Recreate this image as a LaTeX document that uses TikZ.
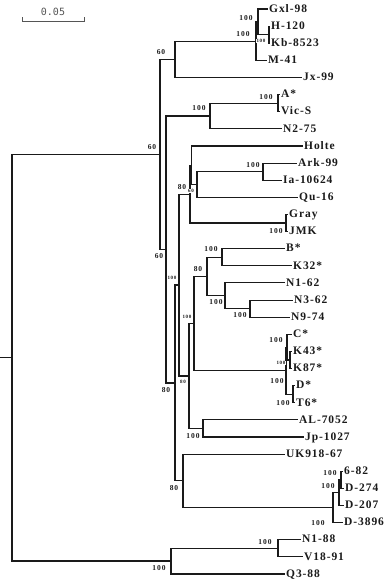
\documentclass[tikz,border=0pt]{standalone}
\usepackage{fontspec}
\setmainfont{Liberation Serif}
\newfontfamily\taxonfont[LetterSpace=8]{Liberation Serif}
\newfontfamily\bootfont[LetterSpace=12]{Liberation Serif}
\newfontfamily\barfont{DejaVu Sans Mono}
\usepackage{xcolor}
\definecolor{treeink}{HTML}{1A1A1A}
\definecolor{bargray}{HTML}{555555}
\usepackage{tikz}

\begin{document}
\begin{tikzpicture}[x=1pt, y=-1pt,
  branch/.style={draw=treeink, line width=1.1pt},
  taxon/.style={anchor=west, inner sep=1pt, text height=6.5pt, text depth=0pt,
        font=\taxonfont\bfseries\fontsize{11.5}{12}\selectfont, text=treeink},
  boot/.style={inner sep=0pt,
        font=\bootfont\bfseries\fontsize{7.5}{8}\selectfont, text=treeink},
  bootsmall/.style={inner sep=0.3pt, fill=white,
        font=\bootfont\bfseries\fontsize{5}{5}\selectfont, text=treeink}]

  \useasboundingbox (0,0) rectangle (388,581);

  %% Scale bar
  \coordinate (barl) at (22,21);
  \coordinate (barr) at (84,21);
  \draw[draw=bargray, line width=0.9pt]
    ([yshift=4pt]barl) -- (barl) -- (barr) -- ([yshift=4pt]barr);
  \node[inner sep=0pt, font=\barfont\fontsize{10}{10}\selectfont, text=bargray]
    (barlabel) at (53,12) {0.05};

  %% Internal nodes
  \coordinate (base)  at (0,357.8);
  \coordinate (root)  at (12,357.8);
  \coordinate (ntop)  at (160,154.5);
  \coordinate (na)    at (175,59.6);
  \coordinate (np)    at (256,41.6);
  \coordinate (nq)    at (258,21.9);
  \coordinate (nr)    at (269,34.7);
  \coordinate (nb)    at (166,249.5);
  \coordinate (nc)    at (210,116.0);
  \coordinate (nav)   at (278,103.2);
  \coordinate (nd)    at (175,383.0);
  \coordinate (ne)    at (179,285.0);
  \coordinate (ng)    at (190,194.1);
  \coordinate (nj)    at (191.5,165.3);
  \coordinate (ni)    at (197,184.5);
  \coordinate (nk)    at (263,171.7);
  \coordinate (nl)    at (286,223.0);
  \coordinate (nh)    at (189,376.0);
  \coordinate (nm)    at (194,323.6);
  \coordinate (nn)    at (207,276.5);
  \coordinate (nbk)   at (222,257.2);
  \coordinate (no)    at (225,295.8);
  \coordinate (nn39)  at (250,308.6);
  \coordinate (nqq)   at (286,370.7);
  \coordinate (ncc)   at (287,347.2);
  \coordinate (nkk)   at (290,360.0);
  \coordinate (ndt)   at (293,394.3);
  \coordinate (nalj)  at (203,428.5);
  \coordinate (nf)    at (183,480.9);
  \coordinate (ns)    at (333,507.6);
  \coordinate (nt)    at (339,492.6);
  \coordinate (nu)    at (341,479.8);
  \coordinate (nout)  at (171,561.0);
  \coordinate (nnv)   at (278,548.3);

  %% Taxa
  \node[taxon] (gxl)   at (268,9.0)   {Gxl-98};
  \node[taxon] (h120)  at (270,26.1)  {H-120};
  \node[taxon] (kb)    at (270,43.2)  {Kb-8523};
  \node[taxon] (m41)   at (267,60.4)  {M-41};
  \node[taxon] (jx)    at (302,77.5)  {Jx-99};
  \node[taxon] (astar) at (280,94.6)  {A*};
  \node[taxon] (vics)  at (280,111.7) {Vic-S};
  \node[taxon] (n275)  at (282,128.8) {N2-75};
  \node[taxon] (holte) at (303,146.0) {Holte};
  \node[taxon] (ark)   at (297,163.1) {Ark-99};
  \node[taxon] (ia)    at (282,180.2) {Ia-10624};
  \node[taxon] (qu)    at (298,197.3) {Qu-16};
  \node[taxon] (gray)  at (288,214.4) {Gray};
  \node[taxon] (jmk)   at (288,231.6) {JMK};
  \node[taxon] (bstar) at (285,248.7) {B*};
  \node[taxon] (k32)   at (292,265.8) {K32*};
  \node[taxon] (n162)  at (285,282.9) {N1-62};
  \node[taxon] (n362)  at (293,300.1) {N3-62};
  \node[taxon] (n974)  at (290,317.2) {N9-74};
  \node[taxon] (cstar) at (292,334.3) {C*};
  \node[taxon] (k43)   at (292,351.4) {K43*};
  \node[taxon] (k87)   at (292,368.6) {K87*};
  \node[taxon] (dstar) at (295,385.7) {D*};
  \node[taxon] (t6)    at (295,402.8) {T6*};
  \node[taxon] (al)    at (298,419.9) {AL-7052};
  \node[taxon] (jp)    at (304,437.0) {Jp-1027};
  \node[taxon] (uk)    at (285,454.1) {UK918-67};
  \node[taxon] (s682)  at (343,471.2) {6-82};
  \node[taxon] (d274)  at (344,488.4) {D-274};
  \node[taxon] (d207)  at (344,505.5) {D-207};
  \node[taxon] (d3896) at (343,522.6) {D-3896};
  \node[taxon] (n188)  at (301,539.7) {N1-88};
  \node[taxon] (v18)   at (303,556.8) {V18-91};
  \node[taxon] (q3)    at (285,574.0) {Q3-88};

  %% Branches
  \draw[branch] (base) -- (root);
  \draw[branch] (root) |- (ntop) (root) |- (nout);
  \draw[branch] (ntop) |- (na)   (ntop) |- (nb);
  \draw[branch] (na)   |- (np)   (na)   |- (jx);
  \draw[branch] (np)   |- (nq)   (np)   |- (m41);
  \draw[branch] (nq)   |- (gxl)  (nq)   |- (nr);
  \draw[branch] (nr)   |- (h120) (nr)   |- (kb);
  \draw[branch] (nb)   |- (nc)   (nb)   |- (nd);
  \draw[branch] (nc)   |- (nav)  (nc)   |- (n275);
  \draw[branch] (nav)  |- (astar) (nav) |- (vics);
  \draw[branch] (nd)   |- (ne)   (nd)   |- (nf);
  \draw[branch] (ne)   |- (ng)   (ne)   |- (nh);
  \draw[branch] (ng)   |- (nj)   (ng)   |- (nl);
  \draw[branch] (nj)   |- (holte) (nj)  |- (ni);
  \draw[branch] (ni)   |- (nk)   (ni)   |- (qu);
  \draw[branch] (nk)   |- (ark)  (nk)   |- (ia);
  \draw[branch] (nl)   |- (gray) (nl)   |- (jmk);
  \draw[branch] (nh)   |- (nm)   (nh)   |- (nalj);
  \draw[branch] (nm)   |- (nn)   (nm)   |- (nqq);
  \draw[branch] (nn)   |- (nbk)  (nn)   |- (no);
  \draw[branch] (nbk)  |- (bstar) (nbk) |- (k32);
  \draw[branch] (no)   |- (n162) (no)   |- (nn39);
  \draw[branch] (nn39) |- (n362) (nn39) |- (n974);
  \draw[branch] (nqq)  |- (ncc)  (nqq)  |- (ndt);
  \draw[branch] (ncc)  |- (cstar) (ncc) |- (nkk);
  \draw[branch] (nkk)  |- (k43)  (nkk)  |- (k87);
  \draw[branch] (ndt)  |- (dstar) (ndt) |- (t6);
  \draw[branch] (nalj) |- (al)   (nalj) |- (jp);
  \draw[branch] (nf)   |- (uk)   (nf)   |- (ns);
  \draw[branch] (ns)   |- (nt)   (ns)   |- (d3896);
  \draw[branch] (nt)   |- (nu)   (nt)   |- (d207);
  \draw[branch] (nu)   |- (s682) (nu)   |- (d274);
  \draw[branch] (nout) |- (nnv)  (nout) |- (q3);
  \draw[branch] (nnv)  |- (n188) (nnv)  |- (v18);

  %% Bootstrap values
  \node[boot] (bntop) at (152,147) {60};
  \node[boot] (bna)   at (161,52)  {60};
  \node[boot] (bnq)   at (246,18)  {100};
  \node[boot] (bnp)   at (243,34)  {100};
  \node[bootsmall] (bnr) at (261,41) {100};
  \node[boot] (bnc)   at (199,108) {100};
  \node[boot] (bnav)  at (266,97)  {100};
  \node[boot] (bnb)   at (159,256) {60};
  \node[boot] (bnd)   at (166,390) {80};
  \node[bootsmall] (bne) at (172,278) {100};
  \node[boot] (bng)   at (182,187) {80};
  \node[bootsmall] (bni) at (191,191) {60};
  \node[boot] (bnk)   at (253,165) {100};
  \node[boot] (bnl)   at (276,231) {100};
  \node[bootsmall] (bnh) at (183,382) {80};
  \node[bootsmall] (bnm) at (187,317) {100};
  \node[boot] (bnn)   at (198,269) {80};
  \node[boot] (bnbk)  at (211,249) {100};
  \node[boot] (bno)   at (216,302) {100};
  \node[boot] (bnn39) at (240,315) {100};
  \node[boot] (bncc)  at (276,340) {100};
  \node[bootsmall] (bnkk) at (281,363) {100};
  \node[boot] (bnqq)  at (277,381) {100};
  \node[boot] (bndt)  at (283,403) {100};
  \node[boot] (bnalj) at (193,436) {100};
  \node[boot] (bnf)   at (174,488) {80};
  \node[boot] (bnu)   at (330,473) {100};
  \node[boot] (bnt)   at (328,486) {100};
  \node[boot] (bns)   at (318,523) {100};
  \node[boot] (bnnv)  at (265,542) {100};
  \node[boot] (bnout) at (159,568) {100};

\end{tikzpicture}
\end{document}
